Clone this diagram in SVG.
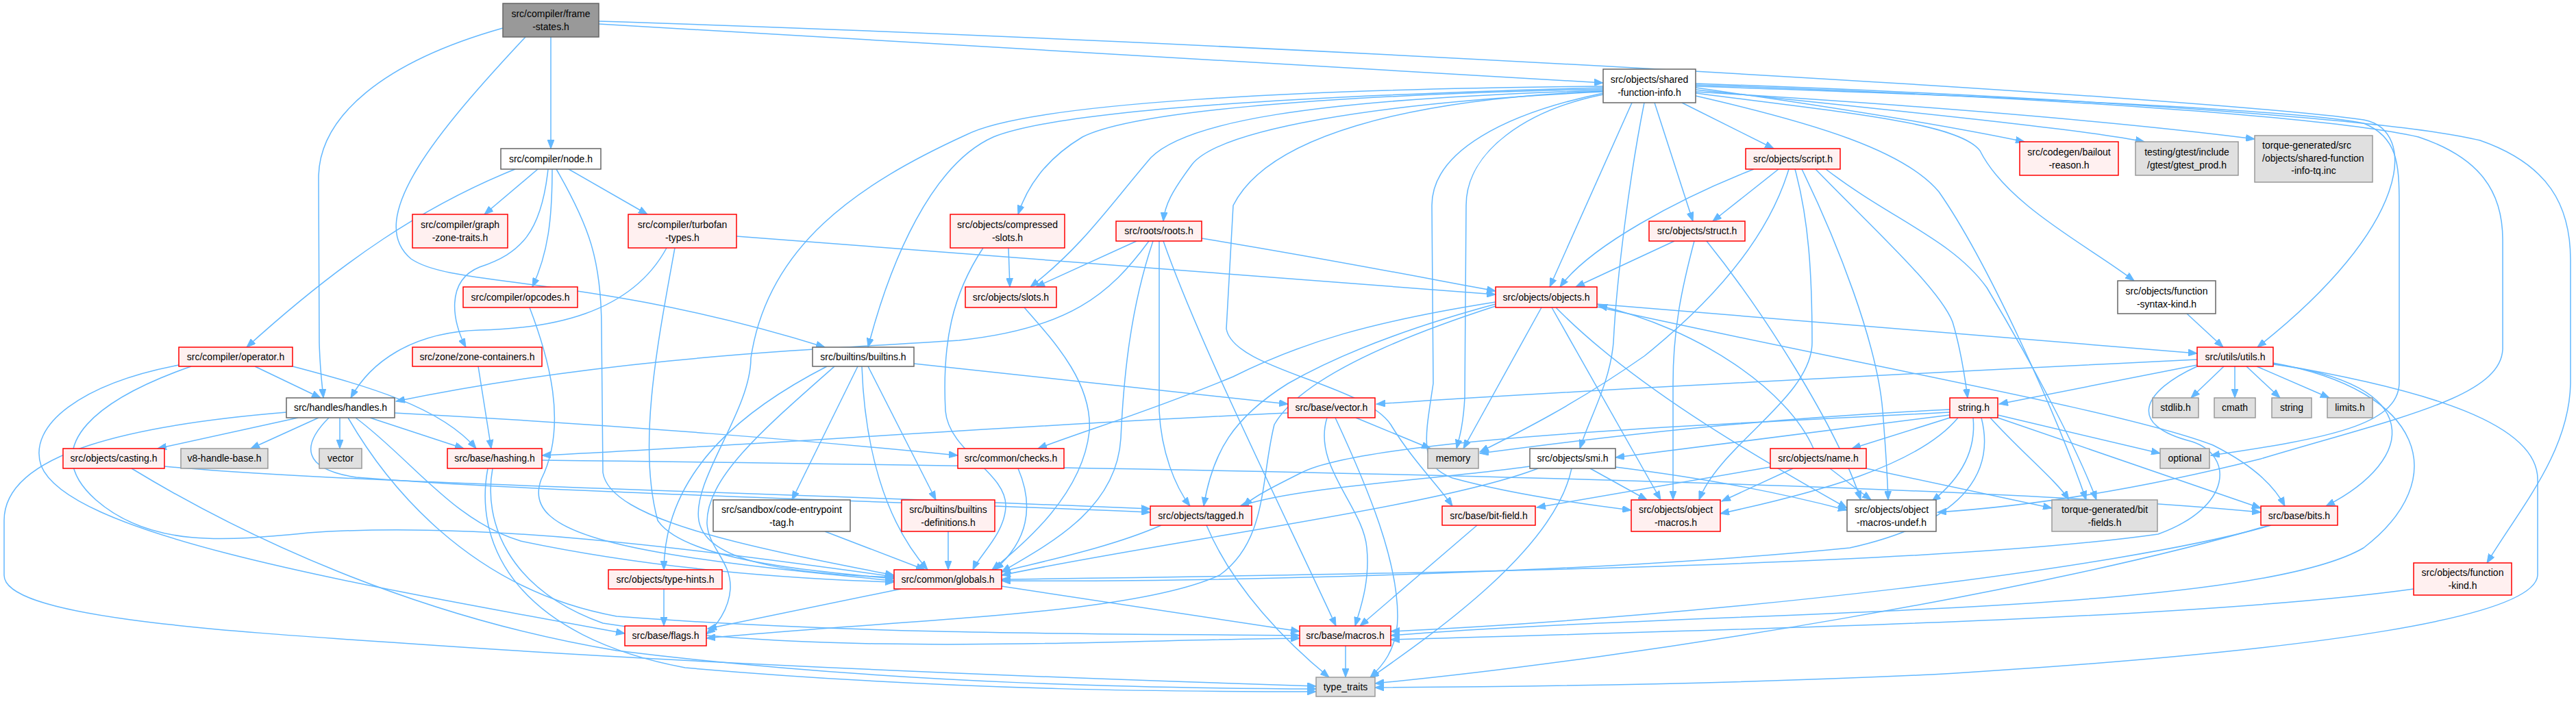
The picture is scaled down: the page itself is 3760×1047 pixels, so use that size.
<svg xmlns="http://www.w3.org/2000/svg" width="3760" height="1047" viewBox="0 0 3760 1047">
<style>
.n rect{stroke-width:1.5}
.red rect{fill:#fff0f0;stroke:#ff0000}
.wht rect{fill:#ffffff;stroke:#666666}
.gry rect{fill:#e0e0e0;stroke:#999999}
.root rect{fill:#999999;stroke:#666666}
text{font-family:"Liberation Sans",Arial,sans-serif;font-size:14px;fill:#000;text-anchor:middle}
text.l{text-anchor:start}
#edges path{fill:none;stroke:#63b8ff;stroke-width:1.5;marker-end:url(#ah)}
</style>
<defs>
<marker id="ah" markerUnits="userSpaceOnUse" markerWidth="14" markerHeight="10" refX="13" refY="5" orient="auto">
<path d="M0,0 L13,5 L0,10 z" fill="#63b8ff" stroke="#63b8ff" stroke-width="1"/>
</marker>
</defs>
<rect width="3760" height="1047" fill="#ffffff"/>
<g id="edges">
<path d="M804,54 L804,217"/>
<path d="M874,35 L2340,121"/>
<path d="M874,31 C1800,60 3200,140 3450,175 C3530,190 3520,330 3295,507"/>
<path d="M734,41 C560,90 465,170 465,260 L466,500 C467,540 470,560 472,581"/>
<path d="M767,54 C640,190 530,320 600,378 C660,420 860,400 1204,507"/>
<path d="M752,247 C620,300 500,380 360,507"/>
<path d="M785,247 L707,313"/>
<path d="M800,247 C790,340 760,370 700,390 C650,410 660,470 680,507"/>
<path d="M806,247 C806,320 800,370 777,419"/>
<path d="M812,247 C860,330 878,380 878,480 L880,690 C890,760 1100,800 1305,840"/>
<path d="M830,247 L945,313"/>
<path d="M973,362 C920,460 800,480 700,482 C600,485 540,530 512,581"/>
<path d="M1075,345 L2183,430"/>
<path d="M985,362 C960,500 930,650 960,760 C1000,820 1200,835 1305,845"/>
<path d="M773,449 C800,520 830,620 790,700 C760,780 900,810 1305,848"/>
<path d="M372,535 L468,581"/>
<path d="M427,535 C520,560 640,590 695,655"/>
<path d="M261,533 C120,560 40,620 60,680 C100,780 500,850 912,925"/>
<path d="M279,535 C150,580 50,650 140,730 C220,800 330,790 450,778 C700,760 1000,800 1305,842"/>
<path d="M698,535 L717,655"/>
<path d="M435,610 L230,655"/>
<path d="M465,610 L366,655"/>
<path d="M496,610 L496,655"/>
<path d="M540,610 L677,655"/>
<path d="M418,602 C200,620 6,660 6,760 L6,840 C6,900 300,920 600,940 C1100,975 1700,995 1921,1002"/>
<path d="M480,610 C440,650 440,685 520,697 C800,720 1400,735 1679,748"/>
<path d="M576,603 C900,620 1200,645 1398,665"/>
<path d="M519,610 C600,670 660,760 760,790 C950,830 1150,845 1305,850"/>
<path d="M508,610 C560,700 680,860 900,900 C1300,930 1700,925 1897,928"/>
<path d="M240,681 C500,705 1000,715 1679,743"/>
<path d="M192,684 C350,780 600,900 900,950 C1300,1000 1700,1005 1921,1006"/>
<path d="M791,672 C1500,680 2800,700 3300,748"/>
<path d="M719,684 C705,760 740,860 880,910 C1200,960 1600,935 1897,932"/>
<path d="M712,684 C690,800 760,930 1000,975 C1400,1010 1750,1010 1921,1010"/>
<path d="M969,860 L969,914"/>
<path d="M1207,535 C1100,590 970,680 969,832"/>
<path d="M1218,535 C1110,630 1030,700 1032,765 C1034,800 1068,820 1066,860 C1064,890 1045,915 1031,926"/>
<path d="M1252,535 L1156,730"/>
<path d="M1258,535 C1262,650 1290,760 1354,832"/>
<path d="M1267,535 L1366,730"/>
<path d="M1334,531 L1880,590"/>
<path d="M1486,684 C1510,740 1500,790 1452,832"/>
<path d="M1204,776 L1350,832"/>
<path d="M1384,776 L1384,832"/>
<path d="M1695,767 C1620,800 1520,820 1462,835"/>
<path d="M1761,767 C1800,860 1880,940 1940,989"/>
<path d="M1315,860 L1033,918"/>
<path d="M1462,856 L1897,922"/>
<path d="M1472,362 L1474,419"/>
<path d="M1435,362 C1390,430 1375,500 1380,600 C1385,660 1470,690 1468,740 C1466,780 1430,810 1420,832"/>
<path d="M1659,352 L1512,419"/>
<path d="M1677,352 C1620,430 1560,480 1400,497 C1200,510 900,520 578,586"/>
<path d="M1683,352 C1650,450 1640,550 1636,640 C1630,740 1540,790 1462,835"/>
<path d="M1692,352 L1692,600 C1695,660 1715,710 1737,739"/>
<path d="M1698,352 C1750,500 1860,720 1950,914"/>
<path d="M1754,348 C1950,380 2100,410 2183,425"/>
<path d="M1495,449 C1540,500 1595,560 1590,630 C1580,720 1500,790 1448,832"/>
<path d="M2340,128 C1900,140 1550,160 1450,200 C1360,240 1300,380 1267,507"/>
<path d="M2340,126 C1900,130 1500,150 1410,197 C1250,270 1120,360 1096,523 C1096,600 1010,700 1020,760 C1030,820 1150,838 1305,843"/>
<path d="M2340,130 C1900,140 1650,165 1580,200 C1530,230 1500,270 1486,313"/>
<path d="M2340,132 C1900,145 1730,180 1680,230 C1620,300 1580,360 1504,419"/>
<path d="M2340,134 C2000,150 1780,190 1740,240 C1710,280 1700,300 1698,323"/>
<path d="M2340,138 C2230,160 2140,220 2140,300 L2138,580 C2136,620 2130,640 2126,655"/>
<path d="M2340,136 C2200,165 2090,220 2090,300 L2092,560 C2080,640 2070,680 2120,698 C2200,720 2300,735 2381,745"/>
<path d="M2340,133 C2050,145 1850,200 1800,300 L1790,480 C1800,540 1990,560 2030,620 C2060,670 2100,710 2120,739"/>
<path d="M2382,150 L2262,419"/>
<path d="M2400,150 C2380,250 2360,400 2355,500 C2350,560 2320,610 2306,655"/>
<path d="M2415,150 L2471,323"/>
<path d="M2455,150 L2589,217"/>
<path d="M2475,128 C2700,160 2850,185 2955,207"/>
<path d="M2475,131 C2800,165 3050,190 3130,207"/>
<path d="M2475,134 C2900,160 3150,185 3291,203"/>
<path d="M2475,136 C2700,165 2860,180 2890,220 C2930,300 3050,360 3115,410"/>
<path d="M2475,126 C2900,140 3350,160 3450,180 C3500,200 3502,240 3502,300 L3502,560 C3500,620 3400,640 3227,665"/>
<path d="M2475,124 C2950,140 3400,170 3530,200 C3620,230 3653,280 3653,350 L3653,510 C3650,580 3500,610 3300,670 C3100,720 2950,740 2828,748"/>
<path d="M2475,122 C3000,140 3500,175 3620,205 C3720,240 3752,300 3752,380 L3752,560 C3750,660 3680,740 3630,822"/>
<path d="M2475,140 C2650,180 2780,220 2830,280 C2900,380 3000,600 3045,730"/>
<path d="M2560,247 C2450,290 2320,360 2277,419"/>
<path d="M2596,247 L2500,323"/>
<path d="M2611,247 C2580,350 2500,440 2400,520 C2300,590 2220,630 2160,660"/>
<path d="M2620,247 C2640,320 2645,400 2645,500 C2645,580 2510,650 2480,730"/>
<path d="M2630,247 C2680,350 2740,500 2748,600 C2752,650 2755,700 2756,730"/>
<path d="M2650,247 C2730,330 2830,420 2850,470 C2862,510 2868,550 2872,581"/>
<path d="M2665,247 C2760,320 2850,350 2900,420 C2960,520 3030,650 3060,730"/>
<path d="M2444,352 L2300,419"/>
<path d="M2473,352 C2455,420 2442,480 2442,560 L2442,730"/>
<path d="M2491,352 C2570,450 2680,620 2716,730"/>
<path d="M2183,441 C2000,470 1900,500 1800,550 C1680,600 1580,630 1515,655"/>
<path d="M2183,444 C2050,480 1950,520 1880,560 C1800,610 1770,660 1757,739"/>
<path d="M2183,447 C2050,490 1900,550 1860,620 C1840,700 1850,790 1780,840 C1650,900 1300,905 1031,932"/>
<path d="M2250,449 L2136,655"/>
<path d="M2265,449 L2424,730"/>
<path d="M2271,449 C2380,560 2550,660 2696,742"/>
<path d="M2331,444 L3207,516"/>
<path d="M2331,448 C2700,530 3100,600 3230,650 C3290,680 3320,710 3335,739"/>
<path d="M2647,655 C2610,570 2480,480 2333,446"/>
<path d="M2584,682 L2243,741"/>
<path d="M2617,684 L2513,732"/>
<path d="M2671,684 L2731,730"/>
<path d="M2724,684 L2995,742"/>
<path d="M2245,684 C2100,740 1700,790 1462,840"/>
<path d="M2233,681 C2100,700 1900,710 1810,739"/>
<path d="M2294,684 C2270,800 2100,920 2000,990"/>
<path d="M2321,684 L2404,730"/>
<path d="M2358,682 C2500,700 2600,720 2696,745"/>
<path d="M2846,598 C2600,610 2400,630 2160,662"/>
<path d="M2846,602 C2500,620 2000,640 1900,690 C1860,710 1830,725 1815,739"/>
<path d="M2846,606 L2358,668"/>
<path d="M2846,610 L2703,655"/>
<path d="M2858,610 C2800,680 2650,720 2511,750"/>
<path d="M2880,610 C2885,660 2860,700 2820,732"/>
<path d="M2892,610 C2910,680 2880,760 2700,800 C2300,840 1700,850 1462,848"/>
<path d="M2916,606 L3153,662"/>
<path d="M2916,610 L3300,742"/>
<path d="M2905,610 C2950,660 3000,700 3020,730"/>
<path d="M3246,535 L3198,581"/>
<path d="M3262,535 L3262,581"/>
<path d="M3279,535 L3328,581"/>
<path d="M3294,535 L3400,581"/>
<path d="M3207,533 L2918,590"/>
<path d="M3207,525 C2800,545 2300,570 2009,590"/>
<path d="M3318,532 C3540,560 3530,670 3395,739"/>
<path d="M3318,530 C3540,570 3580,700 3450,800 C3280,900 2500,890 2030,928"/>
<path d="M3207,535 C3130,570 3100,620 3200,645 C3260,665 3260,740 3150,780 C2800,830 1900,840 1462,846"/>
<path d="M3318,531 C3550,570 3704,620 3704,700 L3704,840 C3700,900 3400,950 2820,985 C2500,1000 2200,1003 2007,1004"/>
<path d="M3192,458 L3245,507"/>
<path d="M3315,767 C3100,830 2500,900 2030,922"/>
<path d="M3312,767 C3000,860 2400,960 2007,998"/>
<path d="M3523,860 C3200,905 2500,920 2030,934"/>
<path d="M1979,610 L2088,655"/>
<path d="M1937,610 C1915,680 1990,740 1995,800 C2000,850 1985,890 1978,914"/>
<path d="M1949,610 C2000,720 2040,820 2040,900 C2040,950 2015,975 2000,989"/>
<path d="M1880,603 C1500,620 1100,650 791,665"/>
<path d="M2156,767 L1985,914"/>
<path d="M1964,943 L1964,989"/>
</g>
<g id="n_fs" class="n root"><rect x="734" y="5" width="140" height="49"/><text x="804" y="25">src/compiler/frame</text><text x="804" y="44">-states.h</text></g>
<g id="n_node" class="n wht"><rect x="731" y="217" width="146" height="30"/><text x="804" y="237">src/compiler/node.h</text></g>
<g id="n_sfi" class="n wht"><rect x="2340" y="101" width="135" height="49"/><text x="2407.5" y="121">src/objects/shared</text><text x="2407.5" y="140">-function-info.h</text></g>
<g id="n_gzt" class="n red"><rect x="602" y="313" width="139" height="49"/><text x="671.5" y="333">src/compiler/graph</text><text x="671.5" y="352">-zone-traits.h</text></g>
<g id="n_tft" class="n red"><rect x="917" y="313" width="158" height="49"/><text x="996" y="333">src/compiler/turbofan</text><text x="996" y="352">-types.h</text></g>
<g id="n_opc" class="n red"><rect x="676" y="419" width="167" height="30"/><text x="759.5" y="439">src/compiler/opcodes.h</text></g>
<g id="n_opr" class="n red"><rect x="261" y="507" width="166" height="28"/><text x="344" y="526">src/compiler/operator.h</text></g>
<g id="n_zc" class="n red"><rect x="602" y="507" width="189" height="28"/><text x="696.5" y="526">src/zone/zone-containers.h</text></g>
<g id="n_hnd" class="n wht"><rect x="418" y="581" width="158" height="29"/><text x="497" y="600">src/handles/handles.h</text></g>
<g id="n_cast" class="n red"><rect x="92" y="655" width="148" height="29"/><text x="166" y="674">src/objects/casting.h</text></g>
<g id="n_v8hb" class="n gry"><rect x="264" y="655" width="127" height="29"/><text x="327.5" y="674">v8-handle-base.h</text></g>
<g id="n_vec" class="n gry"><rect x="466" y="655" width="62" height="29"/><text x="497" y="674">vector</text></g>
<g id="n_hash" class="n red"><rect x="653" y="655" width="138" height="29"/><text x="722" y="674">src/base/hashing.h</text></g>
<g id="n_th" class="n red"><rect x="888" y="832" width="166" height="28"/><text x="971" y="851">src/objects/type-hints.h</text></g>
<g id="n_flags" class="n red"><rect x="912" y="914" width="119" height="29"/><text x="971.5" y="933">src/base/flags.h</text></g>
<g id="n_blt" class="n wht"><rect x="1186" y="507" width="148" height="28"/><text x="1260" y="526">src/builtins/builtins.h</text></g>
<g id="n_chk" class="n red"><rect x="1398" y="655" width="155" height="29"/><text x="1475.5" y="674">src/common/checks.h</text></g>
<g id="n_cet" class="n wht"><rect x="1041" y="730" width="200" height="46"/><text x="1141" y="748.5">src/sandbox/code-entrypoint</text><text x="1141" y="767.5">-tag.h</text></g>
<g id="n_bdef" class="n red"><rect x="1316" y="730" width="136" height="46"/><text x="1384" y="748.5">src/builtins/builtins</text><text x="1384" y="767.5">-definitions.h</text></g>
<g id="n_tag" class="n red"><rect x="1679" y="739" width="148" height="28"/><text x="1753" y="758">src/objects/tagged.h</text></g>
<g id="n_glb" class="n red"><rect x="1305" y="832" width="157" height="28"/><text x="1383.5" y="851">src/common/globals.h</text></g>
<g id="n_csl" class="n red"><rect x="1387" y="313" width="167" height="49"/><text x="1470.5" y="333">src/objects/compressed</text><text x="1470.5" y="352">-slots.h</text></g>
<g id="n_roots" class="n red"><rect x="1629" y="323" width="125" height="29"/><text x="1691.5" y="342">src/roots/roots.h</text></g>
<g id="n_slots" class="n red"><rect x="1409" y="419" width="133" height="30"/><text x="1475.5" y="439">src/objects/slots.h</text></g>
<g id="n_script" class="n red"><rect x="2548" y="217" width="138" height="30"/><text x="2617" y="237">src/objects/script.h</text></g>
<g id="n_struct" class="n red"><rect x="2407" y="323" width="140" height="29"/><text x="2477" y="342">src/objects/struct.h</text></g>
<g id="n_obj" class="n red"><rect x="2183" y="419" width="148" height="30"/><text x="2257" y="439">src/objects/objects.h</text></g>
<g id="n_bail" class="n red"><rect x="2948" y="207" width="144" height="49"/><text x="3020" y="227">src/codegen/bailout</text><text x="3020" y="246">-reason.h</text></g>
<g id="n_gtest" class="n gry"><rect x="3117" y="207" width="150" height="49"/><text x="3192" y="227">testing/gtest/include</text><text x="3192" y="246">/gtest/gtest_prod.h</text></g>
<g id="n_tqinc" class="n gry"><rect x="3291" y="198" width="172" height="68"/><text class="l" x="3302" y="217">torque-generated/src</text><text class="l" x="3302" y="236">/objects/shared-function</text><text x="3377" y="254">-info-tq.inc</text></g>
<g id="n_fsk" class="n wht"><rect x="3091" y="410" width="143" height="48"/><text x="3162.5" y="429.5">src/objects/function</text><text x="3162.5" y="448.5">-syntax-kind.h</text></g>
<g id="n_utils" class="n red"><rect x="3207" y="507" width="111" height="28"/><text x="3262.5" y="526">src/utils/utils.h</text></g>
<g id="n_bvec" class="n red"><rect x="1880" y="581" width="127" height="29"/><text x="1943.5" y="600">src/base/vector.h</text></g>
<g id="n_mem" class="n gry"><rect x="2084" y="655" width="74" height="29"/><text x="2121" y="674">memory</text></g>
<g id="n_smi" class="n wht"><rect x="2233" y="655" width="125" height="29"/><text x="2295.5" y="674">src/objects/smi.h</text></g>
<g id="n_name" class="n red"><rect x="2584" y="655" width="140" height="29"/><text x="2654" y="674">src/objects/name.h</text></g>
<g id="n_bitf" class="n red"><rect x="2105" y="739" width="136" height="28"/><text x="2173" y="758">src/base/bit-field.h</text></g>
<g id="n_om" class="n red"><rect x="2381" y="730" width="130" height="46"/><text x="2446" y="748.5">src/objects/object</text><text x="2446" y="767.5">-macros.h</text></g>
<g id="n_omu" class="n wht"><rect x="2696" y="730" width="130" height="46"/><text x="2761" y="748.5">src/objects/object</text><text x="2761" y="767.5">-macros-undef.h</text></g>
<g id="n_macros" class="n red"><rect x="1897" y="914" width="133" height="29"/><text x="1963.5" y="933">src/base/macros.h</text></g>
<g id="n_tt" class="n gry"><rect x="1921" y="989" width="86" height="28"/><text x="1964" y="1008">type_traits</text></g>
<g id="n_strh" class="n red"><rect x="2846" y="581" width="70" height="29"/><text x="2881" y="600">string.h</text></g>
<g id="n_stdlib" class="n gry"><rect x="3142" y="581" width="67" height="29"/><text x="3175.5" y="600">stdlib.h</text></g>
<g id="n_cmath" class="n gry"><rect x="3232" y="581" width="60" height="29"/><text x="3262" y="600">cmath</text></g>
<g id="n_string" class="n gry"><rect x="3316" y="581" width="58" height="29"/><text x="3345" y="600">string</text></g>
<g id="n_limits" class="n gry"><rect x="3397" y="581" width="66" height="29"/><text x="3430" y="600">limits.h</text></g>
<g id="n_optional" class="n gry"><rect x="3153" y="655" width="72" height="29"/><text x="3189" y="674">optional</text></g>
<g id="n_tbf" class="n gry"><rect x="2995" y="730" width="154" height="46"/><text x="3072" y="748.5">torque-generated/bit</text><text x="3072" y="767.5">-fields.h</text></g>
<g id="n_bits" class="n red"><rect x="3300" y="739" width="112" height="28"/><text x="3356" y="758">src/base/bits.h</text></g>
<g id="n_fk" class="n red"><rect x="3523" y="822" width="143" height="47"/><text x="3594.5" y="841">src/objects/function</text><text x="3594.5" y="860">-kind.h</text></g>
</svg>
